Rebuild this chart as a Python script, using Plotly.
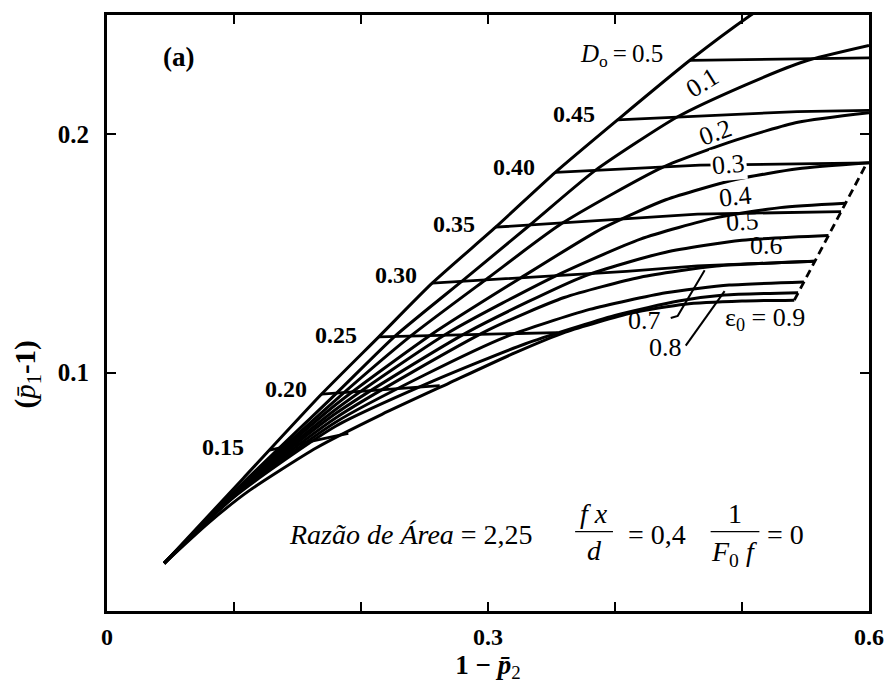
import plotly.graph_objects as go

SERIF = "Liberation Serif"

# ---------------- data ----------------
# epsilon_0 curves (c0 = leftmost envelope carrying the D0 labels)
c0_x = [0.045, 0.107, 0.169, 0.214, 0.256, 0.306, 0.353, 0.402, 0.459, 0.507, 0.530]
c0_y = [0.020, 0.0555, 0.091, 0.115, 0.1375, 0.161, 0.184, 0.206, 0.231, 0.250, 0.258]

c1_x = [0.045, 0.100, 0.180, 0.227, 0.281, 0.333, 0.384, 0.449, 0.502, 0.549, 0.600]
c1_y = [0.020, 0.050, 0.091, 0.1154, 0.1390, 0.1619, 0.1846, 0.2072, 0.2205, 0.2305, 0.2372]

c2_x = [0.045, 0.100, 0.180, 0.240, 0.300, 0.358, 0.437, 0.495, 0.544, 0.600]
c2_y = [0.020, 0.0497, 0.0885, 0.1157, 0.1397, 0.1625, 0.1860, 0.1975, 0.2050, 0.2090]

c3_x = [0.045, 0.100, 0.180, 0.256, 0.326, 0.390, 0.440, 0.495, 0.544, 0.600]
c3_y = [0.020, 0.0493, 0.0865, 0.1162, 0.1398, 0.1605, 0.1725, 0.1810, 0.1855, 0.1880]

c4_x = [0.045, 0.100, 0.180, 0.269, 0.353, 0.420, 0.480, 0.530, 0.5815]
c4_y = [0.020, 0.0490, 0.0845, 0.1168, 0.1405, 0.1560, 0.1650, 0.1692, 0.1710]

c5_x = [0.045, 0.100, 0.180, 0.285, 0.376, 0.440, 0.500, 0.5681]
c5_y = [0.020, 0.0487, 0.0828, 0.1173, 0.1405, 0.1505, 0.1555, 0.1575]

c6_x = [0.045, 0.100, 0.180, 0.300, 0.360, 0.420, 0.480, 0.5574]
c6_y = [0.020, 0.0484, 0.0810, 0.1178, 0.1315, 0.1400, 0.1447, 0.1467]

c7_x = [0.045, 0.100, 0.180, 0.250, 0.314, 0.380, 0.440, 0.490, 0.5487]
c7_y = [0.020, 0.0481, 0.0792, 0.0990, 0.1150, 0.1265, 0.1335, 0.1367, 0.1380]

c8_x = [0.045, 0.100, 0.180, 0.257, 0.329, 0.400, 0.450, 0.486, 0.5442]
c8_y = [0.020, 0.0478, 0.0775, 0.0965, 0.1120, 0.1240, 0.1300, 0.1325, 0.1335]

c9_x = [0.045, 0.080, 0.112, 0.165, 0.2165, 0.269, 0.322, 0.361, 0.413, 0.455, 0.500, 0.5412]
c9_y = [0.020, 0.037, 0.0505, 0.0685, 0.0825, 0.0955, 0.1085, 0.1170, 0.1250, 0.1287, 0.1300, 0.1304]

# lines of constant D0
d015_x = [0.128, 0.190]
d015_y = [0.0675, 0.0745]
d020_x = [0.169, 0.262]
d020_y = [0.091, 0.0945]
d025_x = [0.214, 0.355]
d025_y = [0.115, 0.1168]
d030_x = [0.256, 0.409, 0.465, 0.5574]
d030_y = [0.1375, 0.1425, 0.1448, 0.1467]
d035_x = [0.306, 0.465, 0.578]
d035_y = [0.161, 0.1665, 0.1675]
d040_x = [0.353, 0.467, 0.600]
d040_y = [0.184, 0.187, 0.188]
d045_x = [0.402, 0.5435, 0.600]
d045_y = [0.206, 0.2095, 0.2100]
d050_x = [0.459, 0.600]
d050_y = [0.231, 0.232]

# dashed choking limit
limit_x = [0.5412, 0.5984]
limit_y = [0.1304, 0.1880]

# leader lines for the 0.7 and 0.8 labels
lead07_x = [0.4439, 0.4494, 0.4706]
lead07_y = [0.1229, 0.1238, 0.1429]
lead08_x = [0.4557, 0.4863]
lead08_y = [0.1113, 0.1342]

# labels
d0_labels = ["0.15", "0.20", "0.25", "0.30", "0.35", "0.40", "0.45"]
d0_lab_x = [0.091, 0.141, 0.180, 0.2275, 0.273, 0.3208, 0.368]
d0_lab_y = [0.0688, 0.0933, 0.1158, 0.1408, 0.1625, 0.1862, 0.2083]

eps_labels = ["0.1", "0.2", "0.3", "0.4", "0.5", "0.6", "0.7", "0.8"]
eps_lab_x = [0.469, 0.479, 0.489, 0.495, 0.5004, 0.519, 0.4235, 0.440]
eps_lab_y = [0.2217, 0.2008, 0.1875, 0.1737, 0.1633, 0.1533, 0.1217, 0.1104]
eps_lab_angle = [-32, -20, -5, -6, -3, 0, 0, 0]

x_tick_vals = [0, 0.3, 0.6]
x_tick_text = ["0", "0.3", "0.6"]
y_tick_vals = [0.1, 0.2]
y_tick_text = ["0.1", "0.2"]

# ---------------- figure ----------------
fig = go.Figure()

curves = [(c0_x, c0_y), (c1_x, c1_y), (c2_x, c2_y), (c3_x, c3_y), (c4_x, c4_y),
          (c5_x, c5_y), (c6_x, c6_y), (c7_x, c7_y), (c8_x, c8_y), (c9_x, c9_y)]
for cx, cy in curves:
    fig.add_trace(go.Scatter(x=cx, y=cy, mode="lines",
                             line=dict(color="black", width=3.0, shape="spline", smoothing=0.6),
                             hoverinfo="skip", showlegend=False))

d0_lines = [(d015_x, d015_y), (d020_x, d020_y), (d025_x, d025_y), (d030_x, d030_y),
            (d035_x, d035_y), (d040_x, d040_y), (d045_x, d045_y), (d050_x, d050_y)]
for lx, ly in d0_lines:
    fig.add_trace(go.Scatter(x=lx, y=ly, mode="lines",
                             line=dict(color="black", width=2.8),
                             hoverinfo="skip", showlegend=False))

fig.add_trace(go.Scatter(x=limit_x, y=limit_y, mode="lines",
                         line=dict(color="black", width=2.8, dash="8px,5px"),
                         hoverinfo="skip", showlegend=False))
for lx, ly in [(lead07_x, lead07_y), (lead08_x, lead08_y)]:
    fig.add_trace(go.Scatter(x=lx, y=ly, mode="lines",
                             line=dict(color="black", width=2.0),
                             hoverinfo="skip", showlegend=False))

ann = []
# panel tag
ann.append(dict(x=0.056, y=0.2325, text="<b>(a)</b>", showarrow=False,
                font=dict(family=SERIF, size=27, color="black")))
# D0 labels
for t, lx, ly in zip(d0_labels, d0_lab_x, d0_lab_y):
    ann.append(dict(x=lx, y=ly, text="<b>" + t + "</b>", showarrow=False,
                    font=dict(family=SERIF, size=24, color="black")))
ann.append(dict(x=0.371, y=0.2330, xanchor="left",
                text="<i>D</i><sub>o</sub>\u2009=\u20090.5",
                showarrow=False, font=dict(family=SERIF, size=25, color="black")))
# epsilon labels
for t, lx, ly, a in zip(eps_labels, eps_lab_x, eps_lab_y, eps_lab_angle):
    d = dict(x=lx, y=ly, text=t, showarrow=False, textangle=a,
             font=dict(family=SERIF, size=26, color="black"))
    if t == "0.3":
        d["bgcolor"] = "white"
    ann.append(d)
ann.append(dict(x=0.4847, y=0.1225, xanchor="left", text="\u03b5<sub>0</sub> = 0.9",
                showarrow=False, font=dict(family=SERIF, size=26, color="black")))

# parameter text
MATH = dict(family=SERIF, size=28, color="black")
ann.append(dict(x=0.2392, y=0.0321, text="<i>Razão de Área</i> = 2,25", showarrow=False, font=MATH))
ann.append(dict(x=0.3835, y=0.0408, text="<i>f x</i>", showarrow=False, font=MATH))
ann.append(dict(x=0.3835, y=0.0255, text="<i>d</i>", showarrow=False, font=MATH))
ann.append(dict(x=0.4330, y=0.0321, text="= 0,4", showarrow=False, font=MATH))
ann.append(dict(x=0.4941, y=0.0408, text="1", showarrow=False, font=MATH))
ann.append(dict(x=0.4935, y=0.0240, text="<i>F</i><sub>0</sub> <i>f</i>", showarrow=False, font=MATH))
ann.append(dict(x=0.5341, y=0.0321, text="= 0", showarrow=False, font=MATH))

# y-axis title (placed like the original, below the axis centre)
ann.append(dict(xref="paper", yref="paper", x=-0.105, y=0.397, xanchor="center", yanchor="middle",
                text="<b>(</b><i>p\u0304</i><sub>1</sub><b>-1)</b>", textangle=-90,
                showarrow=False, font=dict(family=SERIF, size=29, color="black")))

fig.add_shape(type="line", xref="x", yref="y", x0=0.3686, x1=0.3984, y0=0.0333, y1=0.0333,
              line=dict(color="black", width=1.4))
fig.add_shape(type="line", xref="x", yref="y", x0=0.4753, x1=0.5137, y0=0.0333, y1=0.0333,
              line=dict(color="black", width=1.4))

fig.update_layout(
    width=896, height=686,
    margin=dict(l=107, r=24, t=15, b=71),
    paper_bgcolor="white", plot_bgcolor="white",
    annotations=ann,
    font=dict(family=SERIF, color="black"),
)
fig.update_xaxes(range=[0, 0.6], tickvals=x_tick_vals, ticktext=x_tick_text,
                 ticks="inside", ticklen=9, tickwidth=2.2, tickcolor="black",
                 minor=dict(dtick=0.1, ticks="inside", ticklen=9, tickwidth=2.2,
                            tickcolor="black", showgrid=False),
                 showline=True, linewidth=2.8, linecolor="black", mirror="allticks",
                 showgrid=False, zeroline=False,
                 tickfont=dict(family=SERIF, size=24, color="black", weight="bold"),
                 ticklabelstandoff=2,
                 title=dict(text="<b>1 \u2212 </b><i><b>p\u0304</b></i><sub>2</sub>",
                            font=dict(family=SERIF, size=27, color="black"), standoff=5))
fig.update_yaxes(range=[0, 0.25], tickvals=y_tick_vals, ticktext=y_tick_text,
                 ticks="inside", ticklen=9, tickwidth=2.2, tickcolor="black",
                 showline=True, linewidth=2.8, linecolor="black", mirror="allticks",
                 showgrid=False, zeroline=False,
                 tickfont=dict(family=SERIF, size=25, color="black", weight="bold"),
                 ticklabelstandoff=10)

fig.write_html("out.html", config={"displayModeBar": False},
               post_script="document.body.style.margin='0px';")
